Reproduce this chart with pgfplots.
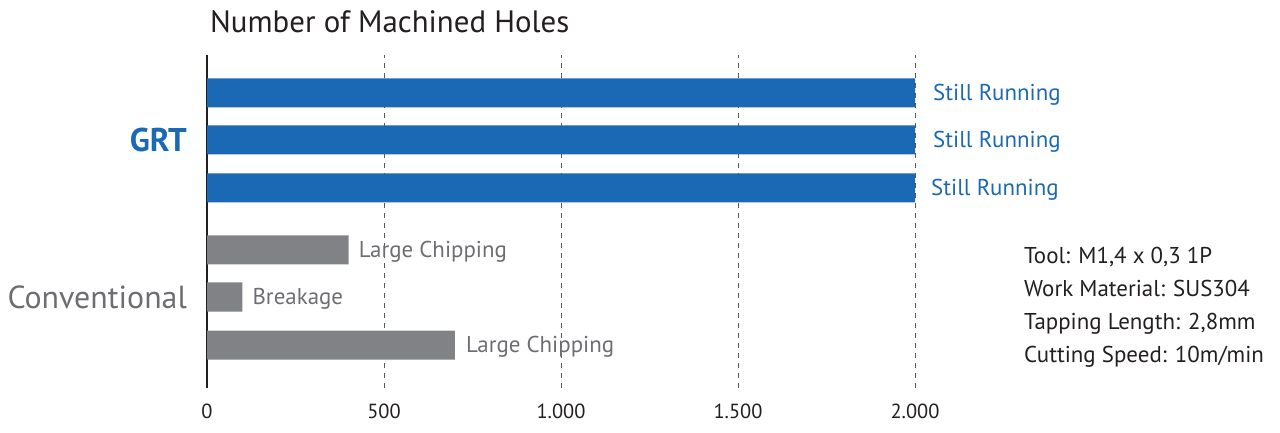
\documentclass[border=0pt]{standalone}
\usepackage{fontspec}
\setmainfont{PT Sans}
\usepackage{pgfplots}
\pgfplotsset{compat=1.18}
\definecolor{grtblue}{RGB}{27,105,180}
\definecolor{bargray}{RGB}{128,130,133}
\definecolor{labgray}{RGB}{109,110,113}
\definecolor{darktext}{RGB}{35,31,32}
\newcommand{\fs}[1]{\fontsize{#1}{#1}\selectfont}

\begin{document}
\begin{tikzpicture}[x=1bp,y=1bp]
\path[use as bounding box] (0,0) rectangle (1280,432);
\begin{axis}[
    at={(207bp,44bp)}, anchor=south west,
    scale only axis, width=708bp, height=333bp,
    xmin=0, xmax=2000, ymin=0, ymax=333,
    clip=false,
    axis lines*=left,
    x axis line style={draw=none},
    y axis line style={line width=1.6bp, color=darktext},
    ytick=\empty,
    xtick={0,500,1000,1500,2000},
    major tick length=0pt,
    xmajorgrids,
    grid style={dash pattern=on 5bp off 5bp, line width=1bp, color=darktext!75},
    /pgf/number format/assume math mode=true,
    /pgf/number format/1000 sep={.},
    xticklabel style={anchor=base, yshift=-30bp, font=\fs{20.5}, text=darktext},
]
% GRT
\addplot[xbar, bar shift=0pt, bar width=29bp, fill=grtblue, draw=none]
    coordinates {(2000,295) (2000,248) (2000,200)};
% Conventional
\addplot[xbar, bar shift=0pt, bar width=29bp, fill=bargray, draw=none]
    coordinates {(400,138) (100,91) (700,43)};

\begin{scope}[every node/.style={anchor=west, inner sep=0pt, yshift=-1.5bp, font=\fs{23}}]
\node[text=grtblue, xshift=18bp] at (axis cs:2000,295) {Still Running};
\node[text=grtblue, xshift=18bp] at (axis cs:2000,248) {Still Running};
\node[text=grtblue, xshift=16bp] at (axis cs:2000,200) {Still Running};
\node[text=labgray, xshift=10bp] at (axis cs:400,138) {Large Chipping};
\node[text=labgray, xshift=10bp] at (axis cs:100,91) {Breakage};
\node[text=labgray, xshift=11bp] at (axis cs:700,43) {Large Chipping};
\end{scope}

\node[anchor=east, inner sep=0pt, text=grtblue, font=\fs{33}\bfseries, xshift=-20bp] at (axis cs:0,248) {GRT};
\node[anchor=east, inner sep=0pt, text=labgray, font=\fs{32}, xshift=-20bp] at (axis cs:0,91) {Conventional};
\end{axis}

\node[anchor=base west, inner sep=0pt, text=darktext, font=\fs{31}] at (210,399) {Number of Machined Holes};
\begin{scope}[every node/.style={anchor=base west, inner sep=0pt, text=darktext, font=\fs{23}}]
\node at (1024,169) {Tool: M1,4 x 0,3 1P};
\node at (1024,136) {Work Material: SUS304};
\node at (1024,103) {Tapping Length: 2,8mm};
\node at (1024,70) {Cutting Speed: 10m/min};
\end{scope}
\end{tikzpicture}
\end{document}
